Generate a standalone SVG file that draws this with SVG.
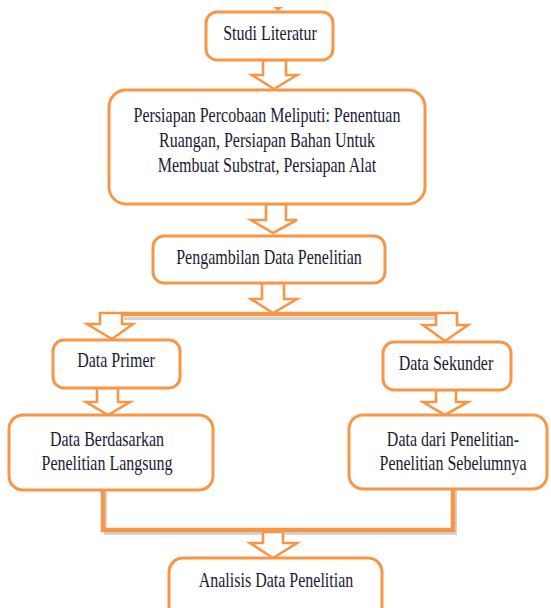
<svg xmlns="http://www.w3.org/2000/svg" width="551" height="608" viewBox="0 0 551 608">
<style>
.box{fill:#fff;stroke:#F79646;stroke-width:3}
.arr{fill:#fff;stroke:#F79646;stroke-width:2.6;stroke-linejoin:miter}
.bar{fill:none;stroke:#F79646;stroke-width:4.5;stroke-linejoin:miter}
.sh{fill:none;stroke:#b8b8b8;stroke-width:3;opacity:0.6}
.t{font-family:"Liberation Serif","Times New Roman",serif;font-size:16px;fill:#1a1a33;text-anchor:middle}
</style>
<rect width="551" height="608" fill="#fff"/>
<g id="connectors">
<polygon points="273,7 283,7 278,11" fill="#F79646"/>
<line class="sh" x1="124" y1="318.5" x2="437" y2="318.5"/>
<line class="bar" x1="122" y1="314" x2="437" y2="314"/>
<polyline class="sh" points="105.5,492 105.5,533.5 455.5,533.5 455.5,491"/>
<polyline class="bar" points="103,489 103,530 453,530 453,488"/>
<polygon class="arr" points="263,60 286,60 286,75 297,75 274,89 252,75 263,75"/>
<polygon class="arr" points="266,204 286,204 286,220 297,220 273,233 251,220 266,220"/>
<polygon class="arr" points="262,283 284,283 284,299 297,299 273,313 251,299 262,299"/>
<polygon class="arr" points="100,313 122,313 122,324 133,324 112,339 87,324 100,324"/>
<polygon class="arr" points="436,313 457,313 457,325 468,325 445,341 423,325 436,325"/>
<polygon class="arr" points="97,388 118,388 118,402 130,402 108,415 86,402 97,402"/>
<polygon class="arr" points="436,390 456,390 456,402 468,402 445,415 423,402 436,402"/>
<polygon class="arr" points="263,532 283,532 283,543 297,543 273,558 250,543 263,543"/>
</g>
<g id="studi">
<rect class="box" x="206" y="12" width="127" height="48" rx="11"/>
<text class="t" transform="translate(270,40) scale(1,1.3)">Studi Literatur</text>
</g>
<g id="persiapan">
<rect class="box" x="109" y="90" width="316" height="114" rx="17"/>
<text class="t" transform="translate(267,122) scale(1,1.3)">Persiapan Percobaan Meliputi: Penentuan</text>
<text class="t" transform="translate(267,147) scale(1,1.3)">Ruangan, Persiapan Bahan Untuk</text>
<text class="t" transform="translate(267,172) scale(1,1.3)">Membuat Substrat, Persiapan Alat</text>
</g>
<g id="pengambilan">
<rect class="box" x="153" y="236" width="232" height="47" rx="11"/>
<text class="t" transform="translate(269,264) scale(1,1.3)">Pengambilan Data Penelitian</text>
</g>
<g id="primer">
<rect class="box" x="53" y="340" width="127" height="48" rx="11"/>
<text class="t" transform="translate(116,367) scale(1,1.3)">Data Primer</text>
</g>
<g id="sekunder">
<rect class="box" x="383" y="342" width="128" height="48" rx="11"/>
<text class="t" transform="translate(446,370) scale(1,1.3)">Data Sekunder</text>
</g>
<g id="langsung">
<rect class="box" x="9" y="415" width="204" height="75" rx="14"/>
<text class="t" transform="translate(107,446) scale(1,1.3)">Data Berdasarkan</text>
<text class="t" transform="translate(107,470) scale(1,1.3)">Penelitian Langsung</text>
</g>
<g id="sebelumnya">
<rect class="box" x="349" y="415" width="198" height="74" rx="14"/>
<text class="t" transform="translate(453,446) scale(1,1.3)">Data dari Penelitian-</text>
<text class="t" transform="translate(453,470) scale(1,1.3)">Penelitian Sebelumnya</text>
</g>
<g id="analisis">
<rect class="box" x="169" y="558" width="213" height="70" rx="14"/>
<text class="t" transform="translate(276,587) scale(1,1.3)">Analisis Data Penelitian</text>
</g>
</svg>
